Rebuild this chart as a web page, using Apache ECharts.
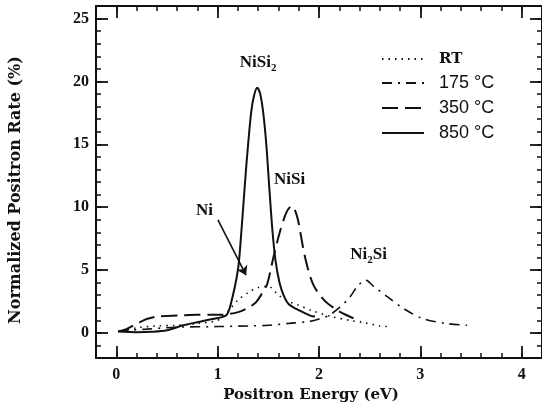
<!DOCTYPE html>
<html>
<head>
<meta charset="utf-8">
<script src="https://cdn.jsdelivr.net/npm/echarts@6/dist/echarts.min.js"></script>
<style>
  html, body { margin: 0; padding: 0; background: #fff; }
  #chart { width: 542px; height: 408px; }
</style>
</head>
<body>
<div id="chart"></div>
<script>
   // data: [energy (eV), rate (%)]
   var seriesNames = ['RT', '175 °C', '350 °C', '850 °C'];
   var rtCurve = [[0.05,0.1],[0.2,0.4],[0.4,0.55],[0.6,0.6],[0.8,0.75],[1.0,1.0],[1.1,1.7],[1.2,2.6],[1.3,3.2],[1.4,3.6],[1.5,3.7],[1.6,3.0],[1.7,2.5],[1.8,2.2],[1.92,1.8],[2.12,1.3],[2.3,1.0],[2.45,0.8],[2.6,0.55],[2.67,0.5]];
   var c175Curve = [[0.02,0.15],[0.3,0.3],[0.6,0.45],[1.0,0.5],[1.3,0.55],[1.5,0.6],[1.7,0.75],[1.9,0.9],[2.0,1.1],[2.1,1.4],[2.2,2.0],[2.3,2.8],[2.38,3.7],[2.46,4.2],[2.54,3.7],[2.67,2.9],[2.83,1.95],[3.02,1.15],[3.25,0.75],[3.46,0.6]];
   var c350Curve = [[0.02,0.1],[0.1,0.3],[0.21,0.75],[0.3,1.1],[0.41,1.3],[0.66,1.4],[0.92,1.45],[1.05,1.45],[1.21,1.67],[1.3,2.0],[1.375,2.4],[1.45,3.3],[1.49,3.9],[1.55,6.0],[1.62,8.2],[1.68,9.6],[1.73,10.1],[1.77,9.6],[1.8,8.7],[1.86,6.1],[1.94,3.9],[2.05,2.6],[2.18,1.8],[2.3,1.3],[2.41,0.9]];
   var c850Curve = [[0.02,0.1],[0.2,0.05],[0.35,0.08],[0.5,0.2],[0.66,0.6],[0.8,0.85],[0.95,1.1],[1.085,1.4],[1.13,2.3],[1.2,5.0],[1.23,7.6],[1.28,13.0],[1.33,17.5],[1.36,18.9],[1.39,19.5],[1.42,19.0],[1.45,17.5],[1.48,15.0],[1.51,11.5],[1.54,8.2],[1.57,5.8],[1.61,4.0],[1.65,3.0],[1.7,2.3],[1.8,1.8],[1.92,1.35],[1.96,1.3]];
   // peak labels [energy, rate, text]
   var peakLabels = [[1.40,21.5,'{n|NiSi}{s|2}'],[1.71,12.2,'{n|NiSi}'],[0.87,9.7,'{n|Ni}'],[2.49,6.2,'{n|Ni}{s|2}{n|Si}']];
   var niArrow = [[1.003,8.98],[1.28,4.59]];
   var xMajor = [0,1,2,3,4];
   var yMajor = [0,5,10,15,20,25];

   var ink = '#111';
   var labelFont = {fontFamily: 'Liberation Serif', fontWeight: 'bold', fontSize: 16, color: ink};
   var nameFont = {fontFamily: 'DejaVu Serif', fontWeight: 'bold', fontSize: 15, color: ink};

   function minorAxis(pos, min, max, step, extra){
      var a = {
         type: 'value', position: pos, min: min, max: max, interval: step,
         axisLine: {show: true, onZero: false, lineStyle: {color: ink, width: 2}},
         axisTick: {show: true, inside: true, length: 5, lineStyle: {color: ink, width: 1.5}},
         axisLabel: {show: false},
         splitLine: {show: false}
      };
      for(var k in extra){ a[k] = extra[k]; }
      return a;
   }
   function majorAxis(pos, min, max, ticks, withLabels, margin){
      return {
         type: 'value', position: pos, min: min, max: max,
         axisLine: {show: false, onZero: false},
         axisTick: {show: true, inside: true, length: 12, customValues: ticks, lineStyle: {color: ink, width: 1.8}},
         axisLabel: Object.assign({show: withLabels, customValues: ticks, margin: margin}, labelFont),
         splitLine: {show: false}
      };
   }
   function curve(name, data, width, dash){
      return {
         name: name, type: 'line', data: data, smooth: 0.3, symbol: 'none',
         itemStyle: {color: ink},
         lineStyle: {color: ink, width: width, type: dash}
      };
   }

   var myChart = echarts.init(document.getElementById('chart'));
   var option = {
      animation: false,
      backgroundColor: '#fff',
      grid: {left: 94, top: 6, right: -6, bottom: 50},
      legend: {
         data: seriesNames,
         orient: 'vertical',
         left: 381, top: 51, padding: 0,
         itemWidth: 42, itemHeight: 20, itemGap: 7,
         itemStyle: {opacity: 0},
         formatter: function(name){
            return name === 'RT' ? '{b|RT}' : '{a|' + name + '}';
         },
         textStyle: {
            color: ink,
            rich: {
               a: {fontFamily: 'Liberation Sans', fontSize: 18, color: ink, padding: [0,0,0,10], lineHeight: 22},
               b: {fontFamily: 'DejaVu Serif', fontWeight: 'bold', fontSize: 15, color: ink, padding: [0,0,0,10], lineHeight: 22}
            }
         }
      },
      xAxis: [
         minorAxis('bottom', -0.2, 4.2, 0.2, {
            name: 'Positron Energy (eV)', nameLocation: 'middle', nameGap: 30,
            nameTextStyle: Object.assign({padding: [0, 16, 0, 0]}, nameFont)
         }),
         majorAxis('bottom', -0.2, 4.2, xMajor, true, 9),
         minorAxis('top', -0.2, 4.2, 0.2, {}),
         majorAxis('top', -0.2, 4.2, xMajor, false, 8)
      ],
      yAxis: [
         minorAxis('left', -2, 26, 1, {
            name: 'Normalized Positron Rate (%)', nameLocation: 'middle', nameGap: 72,
            nameTextStyle: Object.assign({padding: [0, 16, 0, 0]}, nameFont, {fontSize: 16})
         }),
         majorAxis('left', -2, 26, yMajor, true, 7),
         minorAxis('right', -2, 26, 1, {}),
         majorAxis('right', -2, 26, yMajor, false, 8)
      ],
      series: [
         curve('RT', rtCurve, 1.6, [1.5, 5]),
         curve('175 °C', c175Curve, 1.6, [10, 6, 2, 6]),
         curve('350 °C', c350Curve, 2, [16, 7]),
         curve('850 °C', c850Curve, 2, 'solid'),
         {
            name: 'notes', type: 'scatter', data: peakLabels, symbolSize: 0, silent: true, z: 5,
            itemStyle: {color: ink, opacity: 1},
            label: {
               show: true, position: 'inside', color: ink, opacity: 1, textBorderWidth: 0,
               fontFamily: 'Liberation Serif', fontWeight: 'bold', fontSize: 17,
               formatter: function(p){ return p.data[2]; },
               rich: {
                  n: {fontFamily: 'Liberation Serif', fontWeight: 'bold', fontSize: 17, color: ink, lineHeight: 22},
                  s: {fontFamily: 'Liberation Serif', fontWeight: 'bold', fontSize: 11, color: ink, lineHeight: 22, verticalAlign: 'bottom'}
               }
            },
            markLine: {
               silent: true, symbol: ['none', 'arrow'], symbolSize: 9,
               label: {show: false},
               lineStyle: {color: ink, width: 1.6, type: 'solid', opacity: 1},
               data: [[{coord: niArrow[0]}, {coord: niArrow[1]}]]
            }
         }
      ]
   };
   myChart.setOption(option);
</script>
</body>
</html>
